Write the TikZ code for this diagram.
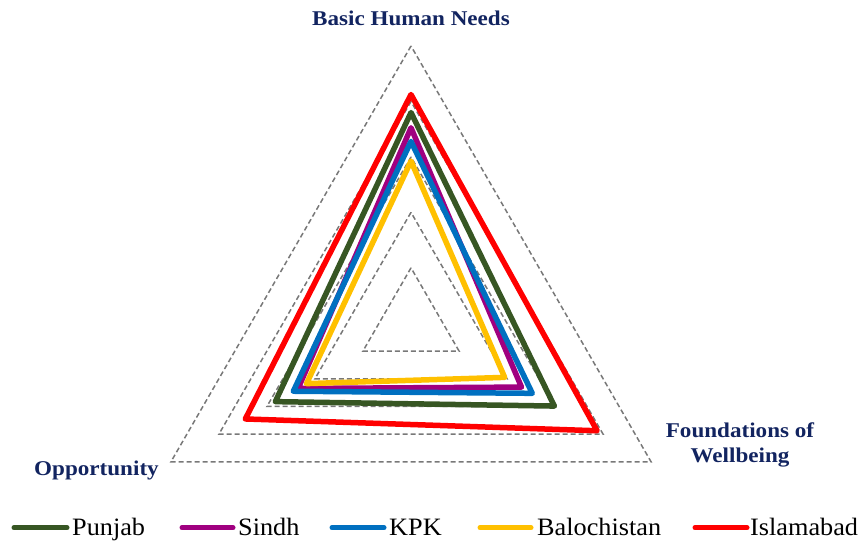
\documentclass[tikz,border=0pt]{standalone}
\usepackage{fontspec}
\setmainfont{Liberation Serif}
\newfontfamily\lblfont[FakeStretch=1.1]{Liberation Serif}
\newfontfamily\legfont[FakeStretch=1.05]{Liberation Serif}
\definecolor{navy}{RGB}{18,36,96}
\definecolor{gridgray}{RGB}{120,120,120}
\definecolor{cpunjab}{RGB}{55,86,35}
\definecolor{csindh}{RGB}{160,0,128}
\definecolor{ckpk}{RGB}{0,112,192}
\definecolor{cbaloch}{RGB}{255,192,0}
\definecolor{cisb}{RGB}{255,0,0}
\tikzset{
  gridline/.style={draw=gridgray, line width=1.5pt, dash pattern=on 5pt off 3pt},
  seriesline/.style={line width=5.5pt, line join=round},
  legline/.style={line width=5pt, line cap=round},
  axislabel/.style={font=\lblfont\bfseries\fontsize{21}{24.4}\selectfont, text=navy, inner sep=0pt, align=center, anchor=base},
  legtext/.style={font=\legfont\fontsize{25}{28}\selectfont, text=black, inner sep=0pt, anchor=base west},
}
\begin{document}
\begin{tikzpicture}[x=1pt,y=1pt]
\useasboundingbox (0,0) rectangle (862,544);
\coordinate (C) at (411,220.7);
\def\RR{277.3}
% grid
\foreach \k in {1,...,5}{
  \draw[gridline] ([shift={(90:\k*\RR/5)}]C) -- ([shift={(210:\k*\RR/5)}]C) -- ([shift={(330:\k*\RR/5)}]C) -- cycle;
}
% series: top, opportunity, foundations
\foreach \a/\b/\c/\col in {0.76/0.565/0.597/cpunjab, 0.705/0.47/0.46/csindh, 0.656/0.49/0.505/ckpk, 0.585/0.435/0.39/cbaloch, 0.825/0.69/0.775/cisb}{
  \draw[seriesline, draw=\col] ([shift={(90:\a*\RR)}]C) -- ([shift={(210:\b*\RR)}]C) -- ([shift={(330:\c*\RR)}]C) -- cycle;
}
% axis labels
\node[axislabel] (bhn) at (411,518) {Basic Human Needs};
\node[axislabel] (opp) at (96.5,69) {Opportunity};
\node[axislabel] (fow) at (740,81.7) {Foundations of\\Wellbeing};
% legend
\draw[legline, draw=cpunjab] (14,16.3) -- (67,16.3);
\node[legtext] (lpunjab) at (72,9) {Punjab};
\draw[legline, draw=csindh] (182,16.3) -- (233,16.3);
\node[legtext] (lsindh) at (238,9) {Sindh};
\draw[legline, draw=ckpk] (332,16.3) -- (384,16.3);
\node[legtext] (lkpk) at (389,9) {KPK};
\draw[legline, draw=cbaloch] (480,16.3) -- (531,16.3);
\node[legtext] (lbaloch) at (537,9) {Balochistan};
\draw[legline, draw=cisb] (695,16.3) -- (747,16.3);
\node[legtext] (lisb) at (750,9) {Islamabad};
\end{tikzpicture}
\end{document}
